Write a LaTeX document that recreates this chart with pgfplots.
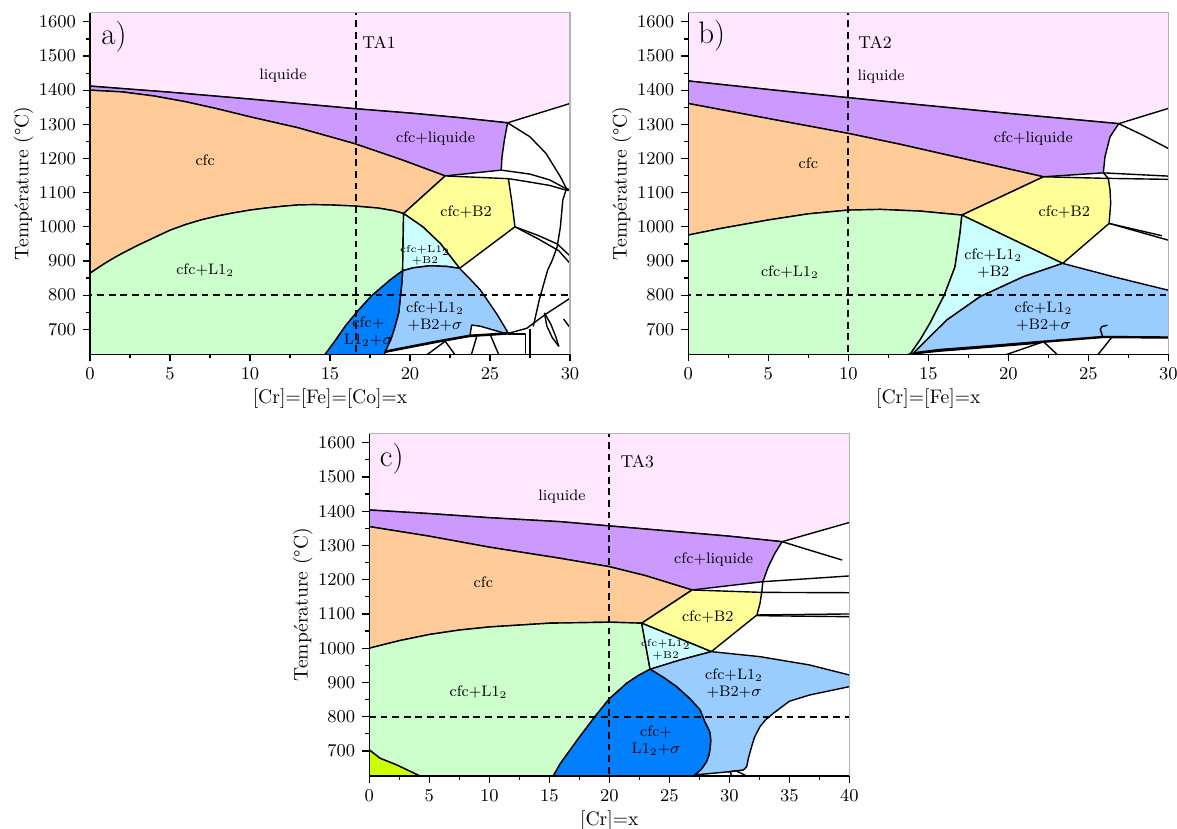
\documentclass[border=0pt]{standalone}
\usepackage{pgfplots}
\pgfplotsset{compat=1.18}
\definecolor{liq}{RGB}{255,232,255}
\definecolor{cfcliq}{RGB}{204,153,255}
\definecolor{cfccol}{RGB}{255,204,153}
\definecolor{lgreen}{RGB}{204,255,204}
\definecolor{byel}{RGB}{255,255,153}
\definecolor{lcyan}{RGB}{204,255,255}
\definecolor{lblue}{RGB}{153,204,255}
\definecolor{dblue}{RGB}{0,128,255}
\definecolor{chart}{RGB}{204,255,0}
\pgfplotsset{
  phase/.style={
    scale only axis, width=240pt, height=170.8pt,
    ymin=626.85, ymax=1626.85,
    ytick={700,800,...,1600},
    minor x tick num=1, minor y tick num=1,
    tick align=outside,
    axis lines*=left,
    axis on top,
    axis line style={line width=0.8pt},
    major tick length=3.5pt, minor tick length=2pt,
    tick style={black, line width=0.6pt},
    /pgf/number format/1000 sep={},
    tick label style={font=\fontsize{9.5}{10}\selectfont},
    label style={font=\fontsize{9.8}{11}\selectfont},
    xlabel style={yshift=2.5pt},
    ylabel style={yshift=-4pt},
    ylabel={Température (\textdegree C)},
    every axis plot/.append style={line join=round},
  },
  reg/.style={fill=#1, draw=black, line width=0.7pt},
  bl/.style={black, line width=0.7pt},
  dsh/.style={black, line width=0.9pt, dash pattern=on 3.4pt off 2.4pt},
}
\tikzset{
  lab/.style={font=\fontsize{7.6}{8.7}\selectfont, align=center, inner sep=0pt},
  tiny/.style={font=\fontsize{5}{5.8}\selectfont, align=center, inner sep=0pt},
  pan/.style={font=\fontsize{15.5}{16}\selectfont, inner sep=0pt},
  ta/.style={font=\fontsize{8.6}{10}\selectfont, inner sep=0pt, anchor=west},
}
\begin{document}
\begin{tikzpicture}[x=1pt,y=1pt]
\useasboundingbox (0,0) rectangle (588.5,-414.5);
%================ panel a
\begin{axis}[phase, name=A, at={(45pt,-177.15pt)}, anchor=south west,
  xmin=0, xmax=30, xtick={0,5,...,30}, xlabel={[Cr]=[Fe]=[Co]=x}]
\addplot[reg=liq] coordinates {(-1,1412)(0,1412)(5,1394)(10,1374)(13,1361)(16.5,1346)(20,1333)(23,1320)(26.1,1304.5)(31,1375.5)(31,1700)(-1,1700)} -- cycle;
\addplot[reg=cfcliq] coordinates {(-1,1412)(0,1412)(5,1394)(10,1374)(13,1361)(16.5,1346)(20,1333)(23,1320)(26.1,1304.5)(25.9,1254)(25.75,1205)(25.7,1166)(22.2,1149)(19.5,1196)(16.5,1244)(13,1290)(10,1322)(8,1345)(6,1366)(4,1383)(2,1395)(0,1400)(-1,1400)} -- cycle;
\addplot[reg=cfccol] coordinates {(-1,1400)(0,1400)(2,1395)(4,1383)(6,1366)(8,1345)(10,1322)(13,1290)(16.5,1244)(19.5,1196)(22.2,1149)(19.6,1039)(19,1047)(18,1055)(16.5,1061)(15,1064)(14,1065)(13,1064)(12,1060)(11,1055)(10,1049)(9,1041)(8,1032)(7,1021)(6,1007)(5,990)(4,968)(3,946)(2,922)(1.5,909)(1,895)(0.5,880)(0,864)(-1,830)} -- cycle;
\addplot[reg=lgreen] coordinates {(-1,830)(0,864)(0.5,880)(1,895)(1.5,909)(2,922)(3,946)(4,968)(5,990)(6,1007)(7,1021)(8,1032)(9,1041)(10,1049)(11,1055)(12,1060)(13,1064)(14,1065)(15,1064)(16.5,1061)(18,1055)(19,1047)(19.6,1039)(19.54,871.5)(19.2,860)(18.75,844)(18.2,822)(17.6,798)(16.8,757)(16.0,712)(15.3,665)(14.7,626.85)(14.3,600)(-1,600)} -- cycle;
\addplot[reg=byel] coordinates {(19.6,1039)(22.2,1149)(26.15,1141)(26.35,1078)(26.56,1000)(23.1,878.5)(21.9,951)(20.8,1000)} -- cycle;
\addplot[reg=lcyan] coordinates {(19.6,1039)(20.8,1000)(21.9,951)(23.1,878.5)(22.3,884)(21.25,886)(20.2,880)(19.54,871.5)} -- cycle;
\addplot[reg=lblue] coordinates {(19.54,871.5)(20.2,880)(21.25,886)(22.3,884)(23.1,878.5)(23.8,845)(24.4,815)(25.4,746.7)(26.15,688.3)(25.8,690)(24.4,709)(23.85,712.5)(23.75,681)(21.7,664)(18.44,634.4)(18.8,670)(19.06,707.6)(19.3,750)(19.4,795.4)(19.5,840)} -- cycle;
\addplot[reg=dblue] coordinates {(14.3,600)(14.7,626.85)(15.3,665)(16.0,712)(16.8,757)(17.6,798)(18.2,822)(18.75,844)(19.2,860)(19.54,871.5)(19.5,840)(19.4,795.4)(19.3,750)(19.06,707.6)(18.8,670)(18.44,634.4)(18.3,600)} -- cycle;
\addplot[black, line width=1.3pt] coordinates {(18.44,634.4)(21.7,664)(23.75,681)(25,684.5)(26.15,688.3)};
\addplot[bl] coordinates {(26.1,1304.5)(27.5,1263.5)(28.5,1215)(29.4,1146.5)(29.85,1105)};
\addplot[bl] coordinates {(25.7,1166)(27.5,1154.4)(28.75,1137)(29.6,1115.5)(30,1108)};
\addplot[bl] coordinates {(26.15,1141)(27.5,1131)(28.75,1121)(29.6,1109.5)(30,1106)};
\addplot[bl] coordinates {(29.75,1108)(29.55,1078)(29.4,1000)(29.2,942)(28.9,903)(28.6,873)(28.1,790)(27.7,708)};
\addplot[bl] coordinates {(26.56,1000)(28.0,975)(29.2,950)(30,915)};
\addplot[bl] coordinates {(26.56,1000)(28.0,965)(29.3,930)(30,893)};
\addplot[bl] coordinates {(26.15,688.3)(27.3,703)(28.5,745)(29.8,784.5)(30,791)};
\addplot[bl] coordinates {(28.4,748)(28.55,710)(28.9,675)(29.3,650)};
\addplot[bl] coordinates {(28.4,748)(28.8,715)(29.1,680)(29.3,650)};
\addplot[bl] coordinates {(26.15,686)(27.2,686)(27.2,600)};
\addplot[bl] coordinates {(27.5,700)(27.5,600)};
\addplot[bl] coordinates {(20.9,620)(22.2,665)(22.9,620)};
\addplot[bl] coordinates {(24.2,684)(23.8,620)};
\addplot[bl] coordinates {(25.0,686)(25.6,620)};
\addplot[bl] coordinates {(29.6,730)(30,705)};
\addplot[dsh] coordinates {(16.6,600)(16.6,1700)};
\addplot[dsh] coordinates {(-1,800)(31,800)};
\node[pan] at (axis cs:1.5,1555) {a)};
\node[ta] at (axis cs:17.0,1541) {TA1};
\node[lab] at (axis cs:12.06,1441) {liquide};
\node[lab] at (axis cs:21.6,1259) {cfc+liquide};
\node[lab] at (axis cs:7.2,1195) {cfc};
\node[lab] at (axis cs:23.5,1044) {cfc+B2};
\node[tiny] at (axis cs:20.94,917) {cfc+L1$_2$\\+B2};
\node[lab] at (axis cs:7.2,873.5) {cfc+L1$_2$};
\node[lab] at (axis cs:21.56,737) {cfc+L1$_2$\\+B2+$\sigma$};
\node[lab] at (axis cs:17.4,693) {cfc+\\L1$_2$+$\sigma$};
\end{axis}
\draw[gray!60, line width=0.6pt] (A.north west) -- (A.north east) -- (A.south east);
%================ panel b
\begin{axis}[phase, name=B, at={(344.15pt,-177.15pt)}, anchor=south west,
  xmin=0, xmax=30, xtick={0,5,...,30}, xlabel={[Cr]=[Fe]=x}]
\addplot[reg=liq] coordinates {(-1,1432)(0,1427)(5,1402)(10,1378)(13.2,1363)(20,1332)(26.9,1302)(31,1361)(31,1700)(-1,1700)} -- cycle;
\addplot[reg=cfcliq] coordinates {(-1,1432)(0,1427)(5,1402)(10,1378)(13.2,1363)(20,1332)(26.9,1302)(26.36,1263.6)(26.04,1205)(25.94,1158)(22.2,1146.5)(13.2,1242)(10,1273.5)(5,1317)(0,1361)(-1,1370)} -- cycle;
\addplot[reg=cfccol] coordinates {(-1,1370)(0,1361)(5,1317)(10,1273.5)(13.2,1242)(22.2,1146.5)(17.1,1034.4)(14.5,1046)(12,1051)(10,1049)(7.5,1038)(5,1020)(2,995)(0,976)(-1,968)} -- cycle;
\addplot[reg=lgreen] coordinates {(-1,968)(0,976)(2,995)(5,1020)(7.5,1038)(10,1049)(12,1051)(14.5,1046)(17.1,1034.4)(16.98,981)(16.67,883)(16.0,800)(15.1,717.5)(14.5,670)(13.86,626.85)(13.7,600)(-1,600)} -- cycle;
\addplot[reg=byel] coordinates {(17.1,1034.4)(22.2,1146.5)(26.25,1141.8)(26.36,1107.6)(26.4,1068.6)(26.3,1010)(23.4,893)} -- cycle;
\addplot[reg=lcyan] coordinates {(17.1,1034.4)(23.4,893)(20.94,854)(18.23,795.4)(16.15,727)(14.06,629.7)(13.86,626.85)(14.5,670)(15.1,717.5)(16.0,800)(16.67,883)(16.98,981)} -- cycle;
\addplot[reg=lblue] coordinates {(14.06,629.7)(16.15,727)(18.23,795.4)(20.94,854)(23.4,893)(26.56,854)(31,803)(31,676)(30,676)(25.9,677.5)(22.2,663.7)(18.9,651)(15.7,639.4)} -- cycle;
\addplot[black, line width=1.2pt] coordinates {(14.06,629.7)(15.7,639.4)(18.9,651)(22.2,663.7)(25.9,677.5)(30,676)};
\addplot[bl] coordinates {(13.7,626.85)(15.7,636)(18.9,648)(22,660)};
\addplot[bl] coordinates {(25.9,677.5)(25.75,700)(25.85,708)(26.2,712)};
\addplot[bl] coordinates {(26.9,1302)(28.4,1268.5)(30,1229.5)};
\addplot[bl] coordinates {(25.94,1158)(30,1148.5)};
\addplot[bl] coordinates {(25.94,1158)(26.25,1141.8)(30,1139)};
\addplot[bl] coordinates {(26.3,1010)(29.6,974)};
\addplot[bl] coordinates {(26.3,1010)(30,961)};
\addplot[bl] coordinates {(19.5,620)(22.2,663.7)(23.2,620)};
\addplot[bl] coordinates {(26.46,676)(25.5,620)};
\addplot[dsh] coordinates {(10,600)(10,1700)};
\addplot[dsh] coordinates {(-1,800)(31,800)};
\node[pan] at (axis cs:1.46,1558) {b)};
\node[ta] at (axis cs:10.6,1541) {TA2};
\node[lab] at (axis cs:12.05,1439) {liquide};
\node[lab] at (axis cs:21.56,1259) {cfc+liquide};
\node[lab] at (axis cs:7.5,1186) {cfc};
\node[lab] at (axis cs:23.5,1044) {cfc+B2};
\node[lab] at (axis cs:19.06,893) {cfc+L1$_2$\\+B2};
\node[lab] at (axis cs:6.35,868.5) {cfc+L1$_2$};
\node[lab] at (axis cs:22.2,737) {cfc+L1$_2$\\+B2+$\sigma$};
\end{axis}
\draw[gray!60, line width=0.6pt] (B.north west) -- (B.north east) -- (B.south east);
%================ panel c
\begin{axis}[phase, name=C, at={(184.65pt,-388pt)}, anchor=south west, height=171.25pt,
  xmin=0, xmax=40, xtick={0,5,...,40}, xlabel={[Cr]=x}]
\addplot[reg=liq] coordinates {(-1,1405.5)(0,1403.5)(5,1393)(10,1381)(15.9,1369.4)(20,1357)(25,1342)(30,1327)(34.4,1311)(41,1377)(41,1700)(-1,1700)} -- cycle;
\addplot[reg=cfcliq] coordinates {(-1,1405.5)(0,1403.5)(5,1393)(10,1381)(15.9,1369.4)(20,1357)(25,1342)(30,1327)(34.4,1311)(33.8,1277)(33.25,1238)(32.8,1194.2)(26.9,1170)(23,1212)(20,1238)(15.9,1262.5)(10,1295)(5,1327)(0,1355)(-1,1360)} -- cycle;
\addplot[reg=cfccol] coordinates {(-1,1360)(0,1355)(5,1327)(10,1295)(15.9,1262.5)(20,1238)(23,1212)(26.9,1170)(22.7,1073)(20,1076)(15,1073)(10,1062)(7.5,1053)(5,1040)(2.5,1022)(0,1000)(-1,992)} -- cycle;
\addplot[reg=lgreen] coordinates {(-1,992)(0,1000)(2.5,1022)(5,1040)(7.5,1053)(10,1062)(15,1073)(20,1076)(22.7,1073)(23.4,938.5)(22.4,920)(21.45,897.6)(20.0,852)(18.8,800)(17.4,735)(15.9,662)(15.33,626.85)(15.0,600)(4.5,600)(4.22,626.85)(2.28,659.1)(0.89,678.7)(0,703)(-1,712)} -- cycle;
\addplot[reg=chart] coordinates {(-1,712)(0,703)(0.89,678.7)(2.28,659.1)(4.22,626.85)(4.5,600)(-1,600)} -- cycle;
\addplot[reg=byel] coordinates {(22.7,1073)(26.9,1170)(32.7,1163)(32.56,1131)(32.3,1097)(28.5,990)} -- cycle;
\addplot[reg=lcyan] coordinates {(22.7,1073)(28.5,990)(25.9,965.6)(23.4,938.5)} -- cycle;
\addplot[reg=lblue] coordinates {(23.4,938.5)(25.9,965.6)(28.5,990)(32.56,975.3)(36.7,951)(40,921.8)(41,912)(41,880)(40,887.7)(38,873)(36.7,863.5)(35,845)(33.67,810)(33,790)(32.56,771)(32.1,740)(31.86,712.7)(31.6,680)(31.45,654)(31.17,644.5)(30.06,639.6)(27.14,630)(27.7,648)(28.1,668.7)(28.3,688)(28.4,707.8)(28.45,730)(28.4,751.6)(28.25,765)(27.97,784.2)(27.56,819.9)(26.7,853)(25.6,887.7)(24.5,915)} -- cycle;
\addplot[reg=dblue] coordinates {(15.0,600)(15.33,626.85)(15.9,662)(17.4,735)(18.8,800)(20.0,852)(21.45,897.6)(22.4,920)(23.4,938.5)(24.5,915)(25.6,887.7)(26.7,853)(27.56,819.9)(27.97,784.2)(28.25,765)(28.4,751.6)(28.45,730)(28.4,707.8)(28.3,688)(28.1,668.7)(27.7,648)(27.14,630)(26.9,600)} -- cycle;
\addplot[bl] coordinates {(34.4,1311)(37,1283)(39.4,1257.5)};
\addplot[bl] coordinates {(32.8,1194.2)(40,1211)};
\addplot[bl] coordinates {(32.8,1194.2)(32.7,1163)(40,1162)};
\addplot[bl] coordinates {(32.3,1097)(40,1100)};
\addplot[bl] coordinates {(32.3,1095)(40,1092)};
\addplot[bl] coordinates {(30.06,639.6)(30.3,620)};
\addplot[bl] coordinates {(29.9,639)(30.6,642)(31.8,620)};
\addplot[dsh] coordinates {(20,600)(20,1700)};
\addplot[dsh] coordinates {(-1,800)(41,800)};
\node[pan] at (axis cs:1.87,1554.5) {c)};
\node[ta] at (axis cs:20.9,1544.5) {TA3};
\node[lab] at (axis cs:16.06,1441.4) {liquide};
\node[lab] at (axis cs:28.7,1259.6) {cfc+liquide};
\node[lab] at (axis cs:9.5,1193) {cfc};
\node[lab] at (axis cs:28.2,1092) {cfc+B2};
\node[tiny] at (axis cs:24.7,996) {cfc+L1$_2$\\+B2};
\node[lab] at (axis cs:9.1,872) {cfc+L1$_2$};
\node[lab] at (axis cs:30.4,897.6) {cfc+L1$_2$\\+B2+$\sigma$};
\node[lab] at (axis cs:23.9,730.5) {cfc+\\L1$_2$+$\sigma$};
\end{axis}
\draw[gray!60, line width=0.6pt] (C.north west) -- (C.north east) -- (C.south east);
\end{tikzpicture}
\end{document}
